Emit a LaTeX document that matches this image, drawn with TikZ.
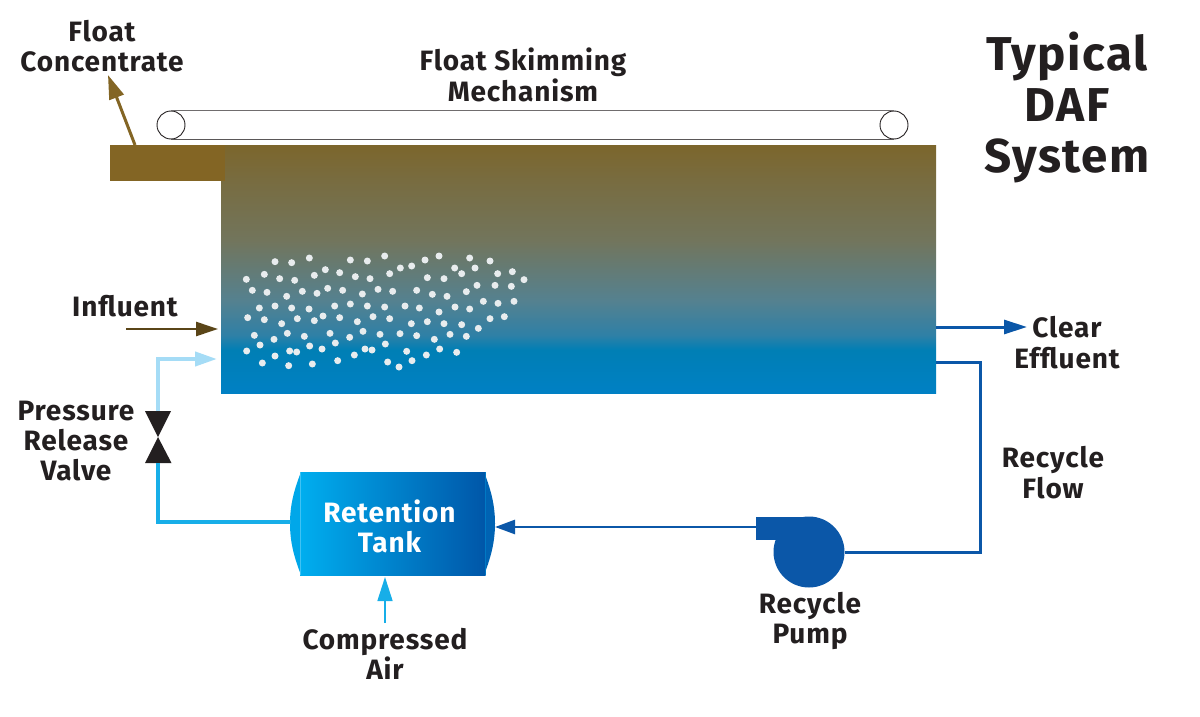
\documentclass[tikz,border=0pt]{standalone}
\usepackage{fontspec}
\setmainfont[LetterSpace=3]{Fira Sans}
\usetikzlibrary{arrows.meta,calc}
\definecolor{ink}{HTML}{231F20}
\definecolor{brownA}{HTML}{836524}
\definecolor{brownB}{HTML}{5A4518}
\definecolor{blueD}{HTML}{0B57A8}
\definecolor{blueM}{HTML}{17AEE8}
\definecolor{blueL}{HTML}{A5DCF6}
\definecolor{dot}{HTML}{E8ECEE}
\definecolor{s1}{HTML}{0080C4}
\definecolor{s2}{HTML}{007FB5}
\definecolor{s3}{HTML}{2F80A6}
\definecolor{s4}{HTML}{55818F}
\definecolor{s5}{HTML}{72755C}
\definecolor{s5b}{HTML}{786C40}
\definecolor{s6}{HTML}{7C662C}
\definecolor{t1}{HTML}{00AEEF}
\definecolor{t2}{HTML}{0056A8}
\pgfdeclareverticalshading{wat}{100bp}{color(0bp)=(s1);color(25bp)=(s1);color(33.67bp)=(s2);color(36.7bp)=(s3);color(43.75bp)=(s4);color(55.85bp)=(s5);color(67.9bp)=(s5b);color(75bp)=(s6);color(100bp)=(s6)}
\pgfdeclarehorizontalshading{tnk}{100bp}{color(0bp)=(t1);color(25bp)=(t1);color(75bp)=(t2);color(100bp)=(t2)}
\tikzset{
 lbl/.style={font=\bfseries\fontsize{28}{30.3}\selectfont,text=ink,align=center,inner sep=0pt,anchor=center},
 ttl/.style={font=\bfseries\fontsize{47.5}{51}\selectfont,text=ink,align=center,inner sep=0pt,anchor=center},
 pipe/.style={line width=#1,line join=miter},
}
\begin{document}
\begin{tikzpicture}[x=1pt,y=-1pt]
\useasboundingbox (0,0) rectangle (1200,717);
% tank
\node[minimum width=715pt,minimum height=248pt,inner sep=0pt,outer sep=0pt,shading=wat,anchor=north west] (tank) at (221,145) {};
\node[minimum width=115pt,minimum height=36pt,inner sep=0pt,outer sep=0pt,fill=brownA,anchor=north west] (ledge) at (110,145) {};
% bubbles
\foreach \a/\b in {165/65,215/68,268/54,391/60,442/63,494/48,615/60,657/48,749/54,810/63,
79/118,133/103,179/116,224/121,283/106,316/89,359/98,406/110,450/116,509/101,541/84,575/78,622/113,672/116,704/84,725/101,765/84,833/101,877/95,912/119,
97/151,141/157,200/169,247/154,291/160,323/145,368/151,427/162,474/148,518/154,590/151,637/163,681/169,739/155,771/136,825/136,874/139,
118/204,165/198,215/204,267/207,344/198,391/192,442/198,494/201,555/198,598/204,657/216,705/201,749/207,790/184,834/190,882/184,
83/233,133/239,185/251,232/236,283/242,309/228,359/233,412/245,459/230,509/236,574/251,622/245,672/251,725/254,810/236,853/230,
103/286,162/298,202/280,253/289,330/280,389/292,429/274,480/283,540/281,590/287,643/298,690/283,739/289,775/265,
120/315,80/333,165/348,209/333,230/336,269/318,306/327,346/309,403/345,435/327,456/330,496/312,560/334,619/345,659/327,710/337,
127/369,206/377,277/372,353/362,503/366,537/381,576/362}
 \fill[dot] ({220+\a/3},{240+\b/3}) circle[radius=3.5];
% skimmer
\node[circle,draw=ink,line width=0.9pt,minimum size=28pt,inner sep=0pt] (rollL) at (171,125) {};
\node[circle,draw=ink,line width=0.9pt,minimum size=28pt,inner sep=0pt] (rollR) at (894,125) {};
\draw[line width=1.4pt,ink!65] (rollL.north) -- (rollR.north);
\draw[line width=1pt,ink!75] (rollL.south) -- (rollR.south);
% float concentrate arrow
\coordinate (fcS) at (135,145);
\coordinate (fcT) at (108,75);
\draw[pipe=3pt,brownA,-{Triangle[length=24pt,width=15pt]}] (fcS) -- (fcT);
% influent
\coordinate (inS) at (126,329);
\coordinate (inT) at (218,329);
\draw[pipe=2.6pt,brownB,-{Triangle[length=22pt,width=14pt]}] (inS) -- (inT);
% valve
\coordinate (vC) at (158,437);
\fill[ink] (145,411) -- (171,411) -- (vC) -- cycle;
\fill[ink] (145,463) -- (171.5,463) -- (vC) -- cycle;
% retention tank
\fill[t1!92!t2] (301,472) .. controls (294,490) and (290,505) .. (290,523.5) .. controls (290,542) and (294,557) .. (301,575) -- cycle;
\fill[t2!85!t1] (484,472) .. controls (491,490) and (495,505) .. (495,523.5) .. controls (495,542) and (491,557) .. (484,575) -- cycle;
\path[shading=tnk] (300,472) rectangle (485.5,575);
\draw[line width=0.5pt,t1!75!white] (300,472) -- (300,575);
\draw[line width=0.5pt,t1!40!t2] (485,472) -- (485,575);
\node[inner sep=0pt,minimum width=205pt,minimum height=103pt,font=\bfseries\fontsize{28}{30.3}\selectfont,text=white,align=center] (ret) at (389.5,526.5) {Retention\\Tank};
% pipes around valve
\coordinate (vB) at (158,463);
\coordinate (vT) at (158,411);
\coordinate (aT) at (217,359);
\coordinate (rtL) at (291,522);
\draw[pipe=4pt,blueM] (rtL) -| (vB);
\draw[pipe=4pt,blueL,-{Triangle[length=22pt,width=14pt]}] (vT) |- (aT);
% compressed air
\coordinate (caS) at (385,623);
\coordinate (caT) at (385,577);
\draw[pipe=1.6pt,blueM,-{Triangle[length=24pt,width=15pt]}] (caS) -- (caT);
% effluent
\coordinate (efS) at (936,327);
\coordinate (efT) at (1027,327);
\draw[pipe=3pt,blueD,-{Triangle[length=23pt,width=14pt]}] (efS) -- (efT);
% pump
\node[circle,fill=blueD,minimum size=71pt,inner sep=0pt] (pump) at (809,552) {};
\fill[blueD] (756,517) rectangle (809,540);
\coordinate (pOut) at (756,527);
\coordinate (rtIn) at (495,527);
\draw[pipe=2.6pt,blueD,-{Triangle[length=20pt,width=14pt]}] (pOut) -- (rtIn);
% recycle loop
\coordinate (rcA) at (936,362.5);
\coordinate (rcB) at (980,552);
\draw[pipe=3pt,blueD] (rcA) -| (rcB) -- (pump.east |- rcB);
% labels
\node[lbl] (l1) at (102,46) {Float\\Concentrate};
\node[lbl] (l2) at (523,75) {Float Skimming\\Mechanism};
\node[ttl] (l3) at (1067,107.5) {Typical\\DAF\\System};
\node[lbl] (l4) at (125,306) {Influent};
\node[lbl] (l5) at (1067,342.5) {Clear\\Effluent};
\node[lbl] (l6) at (1053,472.5) {Recycle\\Flow};
\node[lbl] (l7) at (76,441) {Pressure\\Release\\Valve};
\node[lbl] (l8) at (810,621) {Recycle\\Pump};
\node[lbl] (l9) at (385,654) {Compressed\\Air};
\end{tikzpicture}
\end{document}
